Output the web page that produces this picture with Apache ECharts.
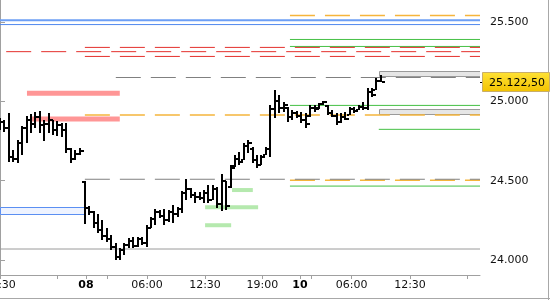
<!DOCTYPE html>
<html>
<head>
<meta charset="utf-8">
<script src="https://cdn.jsdelivr.net/npm/echarts@6/dist/echarts.min.js"></script>
<style>
html,body{margin:0;padding:0;background:#fff;}
#chart{width:550px;height:300px;}
</style>
</head>
<body>
<div id="chart"></div>
<script>
// ---------- DATA ----------
// x unit: one 30-minute trading slot
const xTickValues = [0, 12.96, 19.46, 24.28, 33.26, 46.38, 59.34, 67.87, 70.36, 79.57, 92.76, 105.72];
const xTickLabels = ['12:30', '', '08', '', '06:00', '12:30', '19:00', '10', '', '06:00', '12:30', ''];
const boldLabels = ['08', '10'];
const yTickValues = [24000, 24500, 25000, 25500];

// OHLC bars: [open, high, low, close]
const sessionAStart = 0;
const sessionA = [
  [24850, 24895, 24820, 24870],
  [24870, 24880, 24805, 24830],
  [24830, 24925, 24620, 24650],
  [24650, 24695, 24620, 24640],
  [24640, 24755, 24610, 24740],
  [24740, 24845, 24660, 24830],
  [24830, 24905, 24735, 24880],
  [24880, 24920, 24800, 24860],
  [24860, 24935, 24830, 24900],
  [24900, 24940, 24800, 24850],
  [24850, 24880, 24750, 24860],
  [24860, 24925, 24800, 24880],
  [24880, 24880, 24790, 24820],
  [24820, 24875, 24780, 24850],
  [24850, 24865, 24775, 24820],
  [24820, 24865, 24675, 24700],
  [24700, 24705, 24610, 24640],
  [24640, 24695, 24630, 24670],
  [24670, 24705, 24665, 24690]
];
const sessionBStart = 19.16;
const sessionB = [
  [24490, 24495, 24225, 24330],
  [24330, 24340, 24285, 24300],
  [24300, 24310, 24200, 24230],
  [24230, 24290, 24170, 24190],
  [24190, 24250, 24125, 24150],
  [24150, 24200, 24115, 24130],
  [24130, 24155, 24065, 24080],
  [24080, 24110, 24000, 24020],
  [24020, 24075, 24000, 24060],
  [24060, 24110, 24030, 24095],
  [24095, 24140, 24075, 24120],
  [24120, 24145, 24075, 24090],
  [24090, 24145, 24080, 24130],
  [24130, 24145, 24095, 24110],
  [24110, 24220, 24080, 24200],
  [24200, 24270, 24200, 24260],
  [24260, 24320, 24220, 24300],
  [24300, 24315, 24265, 24280],
  [24280, 24320, 24220, 24250],
  [24250, 24315, 24240, 24300],
  [24300, 24345, 24235, 24290],
  [24290, 24335, 24270, 24320],
  [24320, 24435, 24295, 24420],
  [24420, 24510, 24380, 24450],
  [24450, 24455, 24390, 24410],
  [24410, 24430, 24360, 24400],
  [24400, 24430, 24380, 24390],
  [24390, 24440, 24360, 24420],
  [24420, 24475, 24360, 24380],
  [24380, 24475, 24380, 24450],
  [24450, 24460, 24330, 24350],
  [24350, 24540, 24310, 24500],
  [24500, 24500, 24315, 24340],
  [24460, 24600, 24455, 24580],
  [24590, 24660, 24585, 24640],
  [24640, 24680, 24600, 24620],
  [24630, 24735, 24630, 24720],
  [24720, 24755, 24675, 24740],
  [24700, 24710, 24610, 24630],
  [24630, 24660, 24580, 24600],
  [24600, 24660, 24600, 24650],
  [24665, 24710, 24660, 24700],
  [24700, 24975, 24650, 24950],
  [24950, 25070, 24895, 25000],
  [25000, 25040, 24925, 24960],
  [24960, 24995, 24935, 24980],
  [24960, 24965, 24870, 24900],
  [24900, 24945, 24880, 24930],
  [24930, 24940, 24895, 24910],
  [24910, 24935, 24865, 24880],
  [24880, 24925, 24830, 24860],
  [24905, 24975, 24900, 24960],
  [24960, 24975, 24935, 24950],
  [24960, 24990, 24955, 24985],
  [24985, 25005, 24975, 24995],
  [24970, 24975, 24915, 24930],
  [24930, 24945, 24900, 24910],
  [24910, 24930, 24850, 24870],
  [24870, 24925, 24865, 24900],
  [24900, 24935, 24880, 24890],
  [24915, 24965, 24915, 24950],
  [24950, 24965, 24925, 24940],
  [24945, 24975, 24945, 24965],
  [24965, 24995, 24945, 24960],
  [24960, 25085, 24945, 25060],
  [25060, 25085, 25025, 25040],
  [25075, 25150, 25070, 25130],
  [25130, 25165, 25120, 25122.5]
];

// Reference levels: [price, fromSlot, toSlot]  (toSlot null = right edge)
const blueThick = [[25513, 0, null]];
const blueThin = [[25485, 0, null]];
const redDashed = [[25341, 19.2, null], [25314, 1.4, null], [25284, 19.2, null]];
const grayDashed = [[25151, 26.2, null], [24509, 19.2, null]];
const orangeDashed = [[25542, 65.6, null], [24914, 19.2, null], [24502, 65.6, null]];
const greenSolid = [[25391, 65.6, null], [25347, 65.6, null], [24975, 65.6, null], [24824, 85.7, null], [24466, 65.6, null]];
const graySolid = [[24069, 0, null]];
const pinkZones = [[25051, 6.1, 27.1], [24890, 7.2, 27.1]];
const greenZones = [[24441, 52.5, 57.2], [24332, 46.4, 58.4], [24219, 46.4, 52.3]];
// boxes: [priceLow, priceHigh, fromSlot, toSlot]
const grayBoxes = [[25158, 25191, 85.7, null], [24918, 24952, 85.7, null]];
const blueBoxes = [[24290, 24332, 0, 19.2]];

// ---------- CHART ----------
const XMAX = 108.6;
const FONT = 'DejaVu Sans';
const ohlc = sessionA.map((b, i) => [sessionAStart + i].concat(b))
  .concat(sessionB.map((b, i) => [sessionBStart + i].concat(b)));
const lastPrice = sessionB[sessionB.length - 1][3];

const series = [];
function addLines(list, style, z) {
  list.forEach(l => {
    const to = l[2] == null ? XMAX : l[2];
    series.push({
      type: 'line', silent: true, animation: false, showSymbol: false, symbol: 'none', z: z,
      data: [[l[1], l[0]], [to, l[0]]],
      lineStyle: Object.assign({cap: 'butt'}, style)
    });
  });
}
function addBoxes(list, fill, stroke) {
  series.push({
    type: 'custom', silent: true, animation: false, z: 3, clip: true,
    data: list.map(b => [b[2], b[3] == null ? XMAX : b[3], b[0], b[1]]),
    renderItem: function (params, api) {
      const p1 = api.coord([api.value(0), api.value(3)]);
      const p2 = api.coord([api.value(1), api.value(2)]);
      return {type: 'rect', shape: {x: Math.round(p1[0]) + 0.5, y: Math.round(p1[1]) + 0.5,
        width: Math.round(p2[0] - p1[0]), height: Math.round(p2[1] - p1[1])},
        style: {fill: fill, stroke: stroke, lineWidth: 1}};
    }
  });
}

addLines(graySolid, {color: '#9a9a9a', width: 1}, 2);
addLines(blueThick, {color: '#6d9ff5', width: 2}, 2);
addLines(blueThin, {color: '#4f88ee', width: 1}, 2);
addLines(greenSolid, {color: '#44c044', width: 1}, 3);
addLines(orangeDashed, {color: '#f5b53c', width: 1.5, type: [25, 10]}, 3);
addLines(pinkZones, {color: '#ff9696', width: 5}, 4);
addLines(greenZones, {color: '#b5e9ae', width: 4}, 4);
addLines(grayDashed, {color: '#808080', width: 1, type: [25, 10]}, 4);
addLines(redDashed, {color: '#e4302c', width: 1, type: [25, 10]}, 4);
addBoxes(grayBoxes, '#e6e6e6', '#9a9a9a');
addBoxes(blueBoxes, '#eef3ff', '#5b8ff2');

// OHLC bars
series.push({
  type: 'custom', animation: false, silent: true, z: 10, clip: true,
  data: ohlc,
  renderItem: function (params, api) {
    const x = api.value(0);
    const pO = api.coord([x, api.value(1)]);
    const pH = api.coord([x, api.value(2)]);
    const pL = api.coord([x, api.value(3)]);
    const pC = api.coord([x, api.value(4)]);
    const cx = Math.round(pH[0]);
    const top = Math.round(pH[1]);
    const h = Math.max(2, Math.round(pL[1]) - top);
    return {type: 'group', children: [
      {type: 'rect', shape: {x: cx - 1, y: top, width: 2, height: h}, style: {fill: '#000'}},
      {type: 'rect', shape: {x: cx - 3, y: Math.round(pO[1]) - 1, width: 2, height: 2}, style: {fill: '#000'}},
      {type: 'rect', shape: {x: cx + 1, y: Math.round(pC[1]) - 1, width: 3, height: 2}, style: {fill: '#000'}}
    ]};
  }
});

// last price marker
series.push({
  type: 'custom', animation: false, silent: true, z: 20, clip: false,
  data: [[XMAX, lastPrice]],
  renderItem: function (params, api) {
    const p = api.coord([api.value(0), api.value(1)]);
    const x0 = Math.round(p[0]);
    const y0 = Math.round(p[1]);
    return {type: 'group', children: [
      {type: 'rect', shape: {x: x0, y: y0, width: 6, height: 1}, style: {fill: '#000'}},
      {type: 'rect', shape: {x: x0 + 2.5, y: y0 - 9.5, width: 67, height: 19},
        style: {fill: new echarts.graphic.LinearGradient(0, 0, 0, 1, [
          {offset: 0, color: '#ffe236'}, {offset: 1, color: '#f2c200'}]),
          stroke: '#c8ae6a', lineWidth: 1}},
      {type: 'text', x: x0 + 9, y: y0 + 1,
        style: {text: api.value(1).toFixed(2).replace('.', ',').replace(/^(\d+)(\d{3}),/, '$1.$2,'),
          font: '11px "' + FONT + '"', fill: '#000', verticalAlign: 'middle', align: 'left'}}
    ]};
  }
});

const chart = echarts.init(document.getElementById('chart'), null, {renderer: 'canvas'});
chart.setOption({
  animation: false,
  backgroundColor: '#ffffff',
  grid: {left: 0, right: 70, top: 0, bottom: 25, containLabel: false, outerBoundsMode: 'none'},
  xAxis: {
    type: 'value', min: 0, max: XMAX,
    splitLine: {show: false},
    axisLine: {show: true, lineStyle: {color: '#a0a0a0', width: 1}},
    axisTick: {show: true, length: 4, lineStyle: {color: '#a0a0a0'}, customValues: xTickValues},
    axisLabel: {
      show: true, margin: 5, fontFamily: FONT, fontSize: 11, color: '#111',
      customValues: xTickValues.filter((v, i) => xTickLabels[i] !== ''),
      formatter: function (v) {
        let best = 0, bd = 1e9;
        xTickValues.forEach((t, i) => { const d = Math.abs(t - v); if (d < bd) { bd = d; best = i; } });
        const s = xTickLabels[best];
        return boldLabels.indexOf(s) >= 0 ? '{b|' + s + '}' : s;
      },
      rich: {b: {fontWeight: 'bold', fontFamily: FONT, fontSize: 11, color: '#000'}}
    }
  },
  yAxis: {
    type: 'value', position: 'right', min: 23905, max: 25640, scale: true,
    splitLine: {show: false},
    axisLine: {show: true, lineStyle: {color: '#a0a0a0', width: 1}},
    axisTick: {show: true, length: 5, lineStyle: {color: '#a0a0a0'}, customValues: yTickValues},
    axisLabel: {
      show: true, margin: 10, fontFamily: FONT, fontSize: 11, color: '#111',
      customValues: yTickValues,
      formatter: function (v) { return (v / 1000).toFixed(3); }
    }
  },
  graphic: [
    {type: 'line', shape: {x1: 0, y1: 298.5, x2: 550, y2: 298.5}, style: {stroke: '#a8a8a8', lineWidth: 1}, silent: true},
    {type: 'line', shape: {x1: 548.5, y1: 0, x2: 548.5, y2: 300}, style: {stroke: '#a8a8a8', lineWidth: 1}, silent: true}
  ],
  series: series
});
</script>
</body>
</html>
